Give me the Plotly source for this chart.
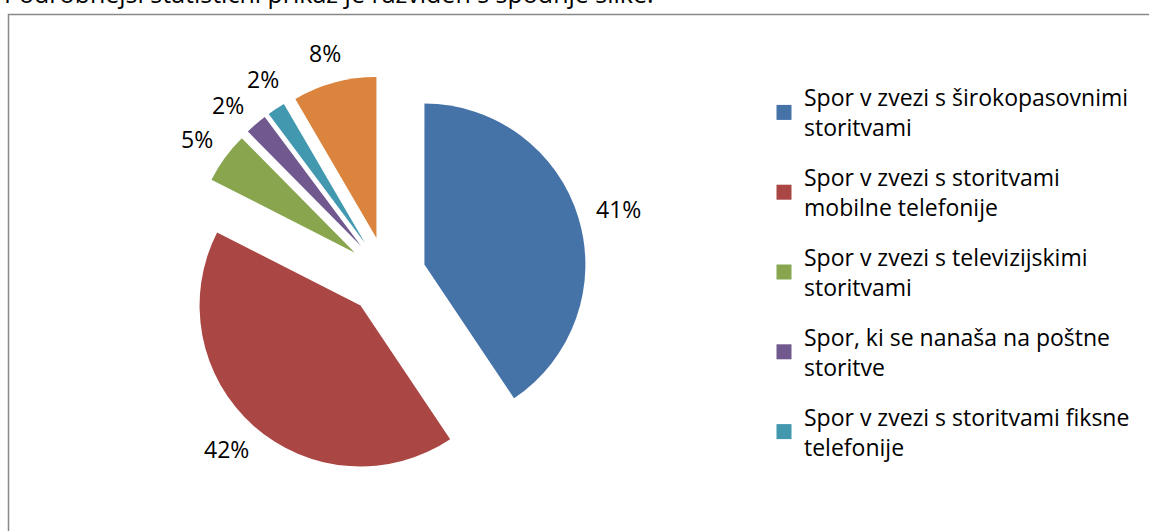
import math
import plotly.graph_objects as go

# ---- data ----
categories = [
    "Spor v zvezi s širokopasovnimi storitvami",
    "Spor v zvezi s storitvami mobilne telefonije",
    "Spor v zvezi s televizijskimi storitvami",
    "Spor, ki se nanaša na poštne storitve",
    "Spor v zvezi s storitvami fiksne telefonije",
    "Drugo",
]
legend_labels = [
    "Spor v zvezi s širokopasovnimi<br>storitvami",
    "Spor v zvezi s storitvami<br>mobilne telefonije",
    "Spor v zvezi s televizijskimi<br>storitvami",
    "Spor, ki se nanaša na poštne<br>storitve",
    "Spor v zvezi s storitvami fiksne<br>telefonije",
]
shares = [40.6, 41.9, 5.1, 2.2, 1.8, 8.4]
colors = ["#4572A7", "#AA4643", "#89A54E", "#71588F", "#4198AF", "#DB843D"]
intro_text = "Podrobnejši statistični prikaz je razviden s spodnje slike."

# ---- layout constants ----
W, H = 1149, 531
FONT = "Open Sans"
FS = 23
PULL = 0.245
DOM_X = [0.1621, 0.5110]
DOM_Y = [0.1028, 0.8576]
GAP = 18

fig = go.Figure()

fig.add_trace(go.Pie(
    labels=categories,
    values=shares,
    marker=dict(colors=colors, line=dict(width=0)),
    sort=False,
    direction="clockwise",
    rotation=0,
    pull=[PULL] * len(shares),
    textinfo="none",
    showlegend=False,
    hoverinfo="label+percent",
    domain=dict(x=DOM_X, y=DOM_Y),
))

# ---- percentage labels outside each slice, following the pie geometry ----
cx = W * (DOM_X[0] + DOM_X[1]) / 2
cy = H * (1 - (DOM_Y[0] + DOM_Y[1]) / 2)
r = min(W * (DOM_X[1] - DOM_X[0]), H * (DOM_Y[1] - DOM_Y[0])) / (2 + 2 * PULL)
total = sum(shares)

labels_info = []
cum = 0.0
for v in shares:
    mid = (cum + v / 2) / total * 360.0
    cum += v
    txt = f"{round(v / total * 100):d}%"
    w = 13 * (len(txt) - 1) + 21
    labels_info.append({"ang": mid, "txt": txt, "w": w, "h": 26})


def label_box(info):
    a = math.radians(info["ang"])
    dx, dy = math.sin(a), -math.cos(a)
    d = r * (1 + PULL) + GAP
    ax, ay = cx + d * dx, cy + d * dy
    px = ax + dx * info["w"] / 2
    py = ay + dy * info["h"] / 2
    return px, py


def overlap(i, j):
    xi, yi = label_box(labels_info[i])
    xj, yj = label_box(labels_info[j])
    wi, hi = labels_info[i]["w"], labels_info[i]["h"]
    wj, hj = labels_info[j]["w"], labels_info[j]["h"]
    return abs(xi - xj) < (wi + wj) / 2 and abs(yi - yj) < (hi + hj) / 2


# spread neighbouring labels apart if they collide
for _ in range(200):
    moved = False
    for i in range(len(labels_info) - 1):
        if overlap(i, i + 1):
            labels_info[i]["ang"] -= 0.25
            labels_info[i + 1]["ang"] += 0.25
            moved = True
    if not moved:
        break

for info in labels_info:
    px, py = label_box(info)
    fig.add_annotation(text=info["txt"], x=px / W, y=1 - py / H, xref="paper", yref="paper",
                       xanchor="center", yanchor="middle", showarrow=False,
                       font=dict(family=FONT, size=FS, color="#000000"))

# legend entries (one group per category so entries can be spaced apart)
for lab, col in zip(legend_labels, colors):
    fig.add_trace(go.Scatter(
        x=[None], y=[None], mode="markers", name=lab,
        legendgroup=lab,
        marker=dict(symbol="square", size=15, color=col, line=dict(width=0)),
    ))

# chart border
fig.add_shape(type="rect", xref="paper", yref="paper",
              x0=8.5 / W, x1=1.02, y0=-0.05, y1=1 - 14.5 / H,
              line=dict(color="#888888", width=1.5), fillcolor="rgba(0,0,0,0)")

fig.add_annotation(text=intro_text, xref="paper", yref="paper",
                   x=656 / W, xanchor="right", y=1, yanchor="bottom", yshift=-12,
                   showarrow=False, font=dict(family=FONT, size=25, color="#000000"))

fig.update_layout(
    width=W, height=H,
    margin=dict(l=0, r=0, t=0, b=0, autoexpand=False),
    paper_bgcolor="white", plot_bgcolor="white",
    xaxis=dict(visible=False, range=[0, 1]),
    yaxis=dict(visible=False, range=[0, 1]),
    legend=dict(
        x=764 / W, xanchor="left", y=1 - 76 / H, yanchor="top",
        font=dict(family=FONT, size=FS, color="#000000"),
        tracegroupgap=17, bgcolor="rgba(0,0,0,0)",
        itemclick=False, itemdoubleclick=False,
    ),
    font=dict(family=FONT),
)

fig.write_html("out.html", config={"displayModeBar": False},
               post_script="document.body.style.margin='0px';")
